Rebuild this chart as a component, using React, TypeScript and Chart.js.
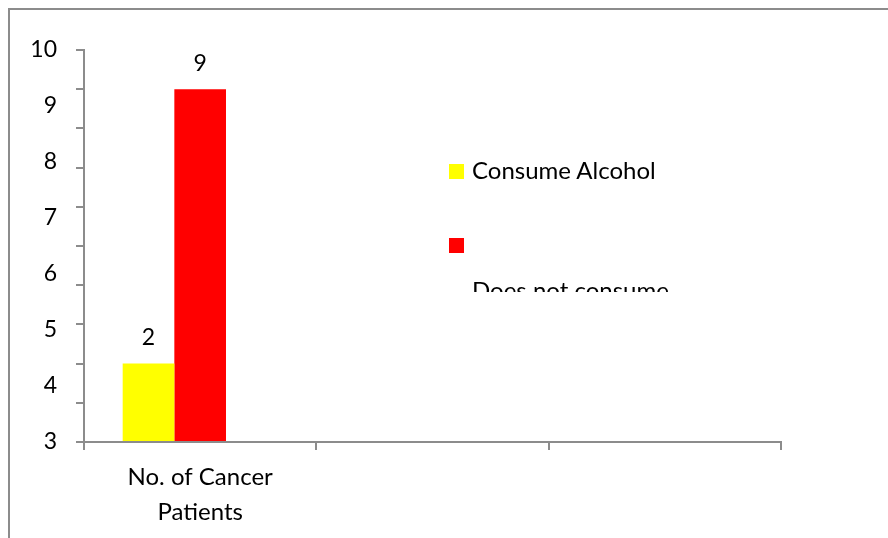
import React, { useEffect, useRef } from "react";
import { Chart, registerables } from "chart.js";

Chart.register(...registerables);

// Categories along the x axis (the first one wraps onto two lines)
const categories: (string | string[])[] = [["No. of Cancer", "Patients"], "", ""];

// Series
const seriesNames = ["Consume Alcohol", "Does not consume alcohol", ""];
const seriesColors = ["#FFFF00", "#FF0000", "#FFFFFF"];
const consumeAlcohol = [2, null, null];
const doesNotConsume = [9, null, null];
const emptySeries = [null, null, null];

// Value axis (bars are measured on this one, 0..10 in steps of 1)
const valueMin = 0;
const valueMax = 10;
const valueStep = 1;

// Printed axis labels, spread over the same height
const labelMin = 3;
const labelMax = 10;
const labelStep = 1;

const FONT = "Lato";
const TEXT_SIZE = 24;
const DIGIT_SIZE = 23;
const AXIS_GRAY = "#8c8c8c";

const valueLabels = {
  id: "valueLabels",
  afterDatasetsDraw(chart: any) {
    const ctx = chart.ctx;
    ctx.save();
    ctx.font = `${DIGIT_SIZE}px ${FONT}`;
    ctx.fillStyle = "#000";
    ctx.textAlign = "center";
    ctx.textBaseline = "middle";
    chart.data.datasets.forEach((ds: any, i: number) => {
      const meta = chart.getDatasetMeta(i);
      meta.data.forEach((bar: any, j: number) => {
        const v = ds.data[j];
        if (v === null || v === undefined) return;
        ctx.fillText(String(v), bar.x, bar.y - 26);
      });
    });
    ctx.restore();
  },
};

export default function App() {
  const canvasRef = useRef<HTMLCanvasElement | null>(null);

  useEffect(() => {
    if (!canvasRef.current) return;
    const chart = new Chart(canvasRef.current, {
      type: "bar",
      data: {
        labels: categories as any,
        datasets: [
          { label: seriesNames[0], data: consumeAlcohol, backgroundColor: seriesColors[0] },
          { label: seriesNames[1], data: doesNotConsume, backgroundColor: seriesColors[1] },
          { label: seriesNames[2], data: emptySeries, backgroundColor: seriesColors[2] },
        ],
      },
      options: {
        responsive: false,
        animation: false,
        devicePixelRatio: 1,
        datasets: {
          bar: { categoryPercentage: 0.667, barPercentage: 1 },
        },
        layout: { padding: { left: 16, right: 107, top: 50, bottom: 8 } },
        plugins: {
          legend: { display: false },
          tooltip: { enabled: false },
        },
        scales: {
          x: {
            type: "category",
            grid: {
              display: true,
              offset: true,
              drawOnChartArea: false,
              drawTicks: true,
              tickLength: 8,
              color: AXIS_GRAY,
              lineWidth: 2,
            },
            border: { display: true, color: AXIS_GRAY, width: 2 },
            ticks: {
              color: "#000",
              font: { family: FONT, size: TEXT_SIZE, lineHeight: 35 / TEXT_SIZE },
              padding: 10,
              maxRotation: 0,
              autoSkip: false,
            },
            afterFit: (s: any) => {
              s.height = 88;
            },
          },
          y: {
            type: "linear",
            position: "left",
            weight: 0,
            min: valueMin,
            max: valueMax,
            ticks: { display: false, stepSize: valueStep },
            grid: {
              display: true,
              drawOnChartArea: false,
              drawTicks: true,
              tickLength: 8,
              color: AXIS_GRAY,
              lineWidth: 2,
            },
            border: { display: true, color: AXIS_GRAY, width: 2 },
            afterFit: (s: any) => {
              s.width = 8;
            },
          },
          yLabels: {
            type: "linear",
            position: "left",
            weight: 1,
            min: labelMin,
            max: labelMax,
            ticks: {
              stepSize: labelStep,
              padding: 19,
              color: "#000",
              font: { family: FONT, size: DIGIT_SIZE },
            },
            grid: { display: false, drawTicks: false, tickLength: 0 },
            border: { display: false },
            afterFit: (s: any) => {
              s.width = 60;
            },
          },
        },
      },
      plugins: [valueLabels],
    });
    return () => chart.destroy();
  }, []);

  // vertical positions of the legend rows
  const legendTops = [156, 230];
  return (
    <div
      style={{
        position: "fixed",
        left: 0,
        top: 0,
        width: 888,
        height: 538,
        overflow: "hidden",
        background: "#fff",
      }}
    >
      <div
        style={{
          position: "absolute",
          left: 8,
          top: 8,
          width: 900,
          height: 560,
          borderTop: `2px solid ${AXIS_GRAY}`,
          borderLeft: `2px solid ${AXIS_GRAY}`,
        }}
      />
      <canvas
        ref={canvasRef}
        width={888}
        height={538}
        style={{ position: "absolute", left: 0, top: 0, width: 888, height: 538 }}
      />
      <div
        style={{
          position: "absolute",
          left: 440,
          top: 150,
          width: 280,
          height: 142,
          overflow: "hidden",
          fontFamily: FONT,
          fontSize: TEXT_SIZE,
          color: "#000",
        }}
      >
        {seriesNames.slice(0, 2).map((name, i) => (
          <div key={i}>
            <div
              style={{
                position: "absolute",
                left: 9,
                top: legendTops[i] - 150 + 8,
                width: 15,
                height: 15,
                background: seriesColors[i],
              }}
            />
            <div
              style={{
                position: "absolute",
                left: 32,
                top: i === 0 ? legendTops[i] - 150 : legendTops[i] - 150 + 46,
                width: i === 0 ? 240 : 215,
                lineHeight: "28px",
                whiteSpace: "normal",
              }}
            >
              {name}
            </div>
          </div>
        ))}
      </div>
    </div>
  );
}
